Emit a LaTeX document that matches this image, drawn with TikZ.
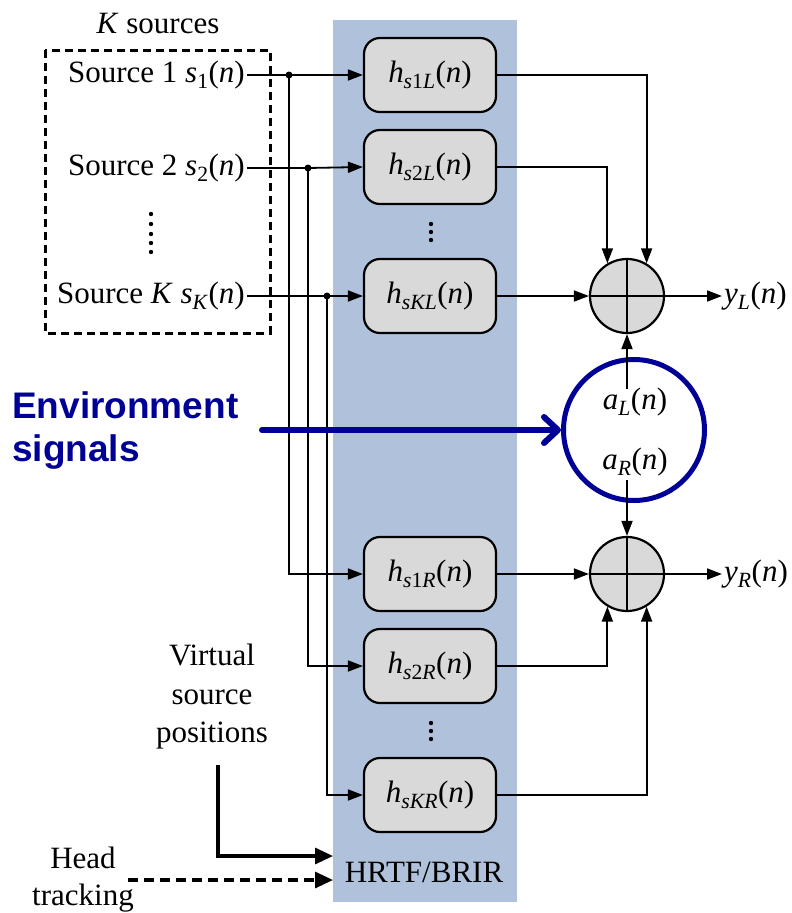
\documentclass[tikz,border=0pt]{standalone}
\usepackage{fontspec}
\setmainfont{Liberation Serif}
\newfontfamily\envfont{Liberation Sans}
\usetikzlibrary{arrows.meta}
\definecolor{bandblue}{RGB}{176,194,219}
\definecolor{envblue}{RGB}{0,0,150}
\definecolor{boxgray}{RGB}{217,217,217}
\newcommand{\ti}[1]{\textit{#1}}
\newcommand{\sbs}[1]{\textsubscript{#1}}
\begin{document}
\begin{tikzpicture}[x=1pt,y=-1pt,
  every node/.style={font=\fontsize{31}{38.5}\selectfont, inner sep=2pt},
  hbox/.style={draw, line width=2.2pt, fill=boxgray, rounded corners=16pt,
    minimum width=132pt, minimum height=74pt, inner sep=0pt},
  sumnode/.style={draw, line width=2.2pt, fill=boxgray, circle, minimum size=74pt, inner sep=0pt},
  conn/.style={line width=1.8pt, -{Triangle[length=15pt,width=11pt]}},
  line/.style={line width=1.8pt},
  thickarr/.style={line width=3.2pt, -{Triangle[length=18pt,width=16pt]}},
  jdot/.style={fill, circle, minimum size=7pt, inner sep=0pt},
]
\useasboundingbox (0,0) rectangle (792,913);
% band
\fill[bandblue] (333,20) rectangle (517,902);
% dashed source box
\draw[line width=3pt, dash pattern=on 8pt off 5pt] (45,50) rectangle (270,333);
\node (ksrc) at (158,24) {\ti{K} sources};
% sources
\node[anchor=east] (src1) at (247,75) {Source 1 \ti{s}\sbs{1}(\ti{n})};
\node[anchor=east] (src2) at (247,168) {Source 2 \ti{s}\sbs{2}(\ti{n})};
\node[anchor=east] (srcK) at (247,296) {Source \ti{K} \ti{s}\sbs{\ti{K}}(\ti{n})};
\foreach \yy in {214,224,234,243,252} \fill (151,\yy) circle (2.2pt);
% filter boxes
\node[hbox] (h1L) at (430,75) {\ti{h}\sbs{\ti{s}1\ti{L}}(\ti{n})};
\node[hbox] (h2L) at (430,167) {\ti{h}\sbs{\ti{s}2\ti{L}}(\ti{n})};
\node[hbox] (hKL) at (430,296) {\ti{h}\sbs{\ti{sKL}}(\ti{n})};
\node[hbox] (h1R) at (430,574) {\ti{h}\sbs{\ti{s}1\ti{R}}(\ti{n})};
\node[hbox] (h2R) at (430,666) {\ti{h}\sbs{\ti{s}2\ti{R}}(\ti{n})};
\node[hbox] (hKR) at (430,795) {\ti{h}\sbs{\ti{sKR}}(\ti{n})};
\foreach \yy in {224,232,240} \fill (431,\yy) circle (2.2pt);
\foreach \yy in {723,731,739} \fill (431,\yy) circle (2.2pt);
% junctions
\node[jdot] (d1) at (289,75) {};
\node[jdot] (d2) at (308,168) {};
\node[jdot] (dK) at (327,296) {};
\draw[line] (src1.east) -- (d1.center);
\draw[line] (src2.east) -- (d2.center);
\draw[line] (srcK.east) -- (dK.center);
\draw[conn] (d1.center) -- (h1L.west);
\draw[conn] (d2.center) -- (h2L.west);
\draw[conn] (dK.center) -- (hKL.west);
\draw[conn] (d1.center) |- (h1R.west);
\draw[conn] (d2.center) |- (h2R.west);
\draw[conn] (dK.center) |- (hKR.west);
% summing nodes
\node[sumnode] (sL) at (627,296) {};
\draw[line] (sL.north) -- (sL.south) (sL.west) -- (sL.east);
\node[sumnode] (sR) at (627,574) {};
\draw[line] (sR.north) -- (sR.south) (sR.west) -- (sR.east);
\draw[conn] (h1L.east) -| (sL.59);
\draw[conn] (h2L.east) -| (sL.121);
\draw[conn] (hKL.east) -- (sL.west);
\draw[conn] (h1R.east) -- (sR.west);
\draw[conn] (h2R.east) -| (sR.239);
\draw[conn] (hKR.east) -| (sR.301);
% outputs
\node[anchor=west] (yL) at (722,296) {\ti{y}\sbs{\ti{L}}(\ti{n})};
\node[anchor=west] (yR) at (722,574) {\ti{y}\sbs{\ti{R}}(\ti{n})};
\draw[conn] (sL.east) -- (yL.west);
\draw[conn] (sR.east) -- (yR.west);
% environment
\node[draw=envblue, line width=5pt, circle, minimum size=141pt, inner sep=0pt] (env) at (634,430) {};
\node (aL) at (635,402) {\ti{a}\sbs{\ti{L}}(\ti{n})};
\node (aR) at (635,462) {\ti{a}\sbs{\ti{R}}(\ti{n})};
\coordinate (aLtop) at (627,389);
\coordinate (aRbot) at (627,480);
\draw[conn] (aLtop) -- (sL.south);
\draw[conn] (aRbot) -- (sR.north);
\node[anchor=west, align=left, text=envblue, font=\envfont\bfseries\fontsize{37}{43}\selectfont, inner sep=0pt] (envtxt) at (12,431) {Environment\\signals};
\coordinate (envstart) at (262,430);
\draw[envblue, line width=6pt, line cap=round, -{Straight Barb[length=14pt,width=26pt,round]}] (envstart) -- (env.west);
% bottom inputs
\node (hrtf) at (424,872) {HRTF/BRIR};
\node[align=center] (vsp) at (212,697) {Virtual\\source\\positions};
\node[align=center, font=\fontsize{31}{37}\selectfont] (head) at (83,880) {Head\\tracking};
\coordinate (vspstart) at (218,765);
\coordinate (vspend) at (333,856);
\coordinate (htstart) at (128,880);
\coordinate (htend) at (333,880);
\draw[thickarr] (vspstart) |- (vspend);
\draw[thickarr, dash pattern=on 10pt off 6pt] (htstart) -- (htend);
\end{tikzpicture}
\end{document}
